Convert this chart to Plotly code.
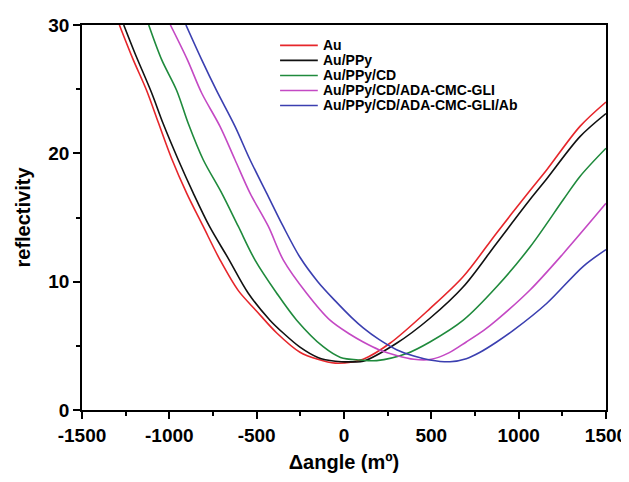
import plotly.graph_objects as go

series_names = ["Au", "Au/PPy", "Au/PPy/CD", "Au/PPy/CD/ADA-CMC-GLI", "Au/PPy/CD/ADA-CMC-GLI/Ab"]
series_colors = ["#e6262b", "#111111", "#1f8a3c", "#c449c4", "#3b3fb0"]

au_x = [-1286, -1210, -1130, -1063, -987, -901, -806, -710, -605, -500, -385, -252, -150, -50, 50, 110, 263, 492, 683, 874, 1065, 1160, 1351, 1500]
au_y = [30, 27.4, 24.9, 22.4, 19.6, 16.9, 14.3, 11.7, 9.3, 7.7, 6.0, 4.5, 3.95, 3.65, 3.75, 3.95, 5.2, 7.9, 10.4, 13.8, 17.1, 18.7, 22.1, 24.0]

ppy_x = [-1261, -1197, -1101, -1035, -949, -863, -770, -662, -548, -424, -348, -252, -150, -50, 50, 110, 301, 492, 683, 874, 1065, 1160, 1351, 1500]
ppy_y = [30, 27.8, 24.7, 22.3, 19.5, 16.9, 14.3, 11.8, 9.1, 7.0, 6.0, 4.9, 4.1, 3.8, 3.75, 3.8, 5.2, 7.15, 9.6, 13.0, 16.4, 18.0, 21.3, 23.1]

cd_x = [-1118, -1044, -958, -891, -806, -700, -605, -510, -385, -271, -119, -20, 92, 187, 359, 492, 683, 874, 1065, 1256, 1351, 1500]
cd_y = [30, 27.3, 24.9, 22.3, 19.5, 16.9, 14.3, 11.7, 9.1, 7.0, 4.93, 4.1, 3.9, 3.85, 4.4, 5.3, 7.0, 9.6, 12.7, 16.4, 18.2, 20.4]

gli_x = [-994, -897, -815, -710, -624, -538, -433, -348, -214, -80, 34, 110, 200, 301, 400, 500, 600, 700, 800, 874, 1065, 1256, 1500]
gli_y = [30, 27.3, 24.7, 22.1, 19.5, 16.9, 14.3, 11.7, 9.1, 7.0, 5.9, 5.3, 4.7, 4.25, 3.95, 3.95, 4.45, 5.3, 6.2, 7.0, 9.35, 12.2, 16.1]

ab_x = [-905, -815, -730, -624, -538, -443, -348, -252, -150, -50, 44, 110, 200, 301, 400, 492, 607, 700, 779, 874, 969, 1160, 1370, 1500]
ab_y = [30, 27.3, 24.9, 22.1, 19.5, 16.9, 14.3, 11.9, 10.0, 8.5, 7.2, 6.4, 5.5, 4.7, 4.2, 3.9, 3.76, 4.0, 4.5, 5.3, 6.2, 8.3, 11.2, 12.5]

xs = [au_x, ppy_x, cd_x, gli_x, ab_x]
ys = [au_y, ppy_y, cd_y, gli_y, ab_y]

x_ticks = [-1500, -1000, -500, 0, 500, 1000, 1500]
y_ticks = [0, 10, 20, 30]

FONT = "Liberation Sans, Arial, sans-serif"

fig = go.Figure()
for name, color, x, y in zip(series_names, series_colors, xs, ys):
    fig.add_trace(go.Scatter(x=x, y=y, mode="lines", name=name, showlegend=False,
                             line=dict(color=color, width=1.6, shape="spline", smoothing=0.9)))

# legend drawn in paper coordinates (compact rows as in the reference)
leg_x0, leg_x1, leg_tx = 0.378, 0.450, 0.457
leg_y0, leg_dy = 0.947, 0.039
for i, (name, color) in enumerate(zip(series_names, series_colors)):
    yy = leg_y0 - i * leg_dy
    fig.add_shape(type="line", xref="paper", yref="paper", x0=leg_x0, x1=leg_x1, y0=yy, y1=yy,
                  line=dict(color=color, width=1.6))
    fig.add_annotation(xref="paper", yref="paper", x=leg_tx, y=yy, text=name, showarrow=False,
                       xanchor="left", yanchor="middle",
                       font=dict(family=FONT, size=14, color="black", weight="bold"))

axis_common = dict(
    showgrid=False, zeroline=False, showline=True, linecolor="black", linewidth=1.6,
    mirror=True, ticks="outside", ticklen=7, tickwidth=1.5, tickcolor="black", automargin=False,
    tickfont=dict(family=FONT, size=19, color="black", weight="bold"),
)

# page body has an 8px default margin, so the figure is sized to fit the window
fig.update_layout(
    width=621, height=474,
    margin=dict(l=74, r=23, t=17, b=72),
    paper_bgcolor="white", plot_bgcolor="white",
    font=dict(family=FONT, color="black"),
    showlegend=False,
    xaxis=dict(range=[-1500, 1500], tickvals=x_ticks,
               ticktext=[str(v) for v in x_ticks],
               minor=dict(ticks="outside", ticklen=4, tickwidth=1.5, tickcolor="black", dtick=250, tick0=-1500),
               title=dict(text="\u0394angle (m\u00ba)", standoff=10,
                          font=dict(family=FONT, size=20, color="black", weight="bold")),
               **axis_common),
    yaxis=dict(range=[0, 30], tickvals=y_ticks,
               minor=dict(ticks="outside", ticklen=4, tickwidth=1.5, tickcolor="black", dtick=5, tick0=0),
               title=dict(text="reflectivity", standoff=12,
                          font=dict(family=FONT, size=20, color="black", weight="bold")),
               **axis_common),
)

fig.write_html("out.html")
